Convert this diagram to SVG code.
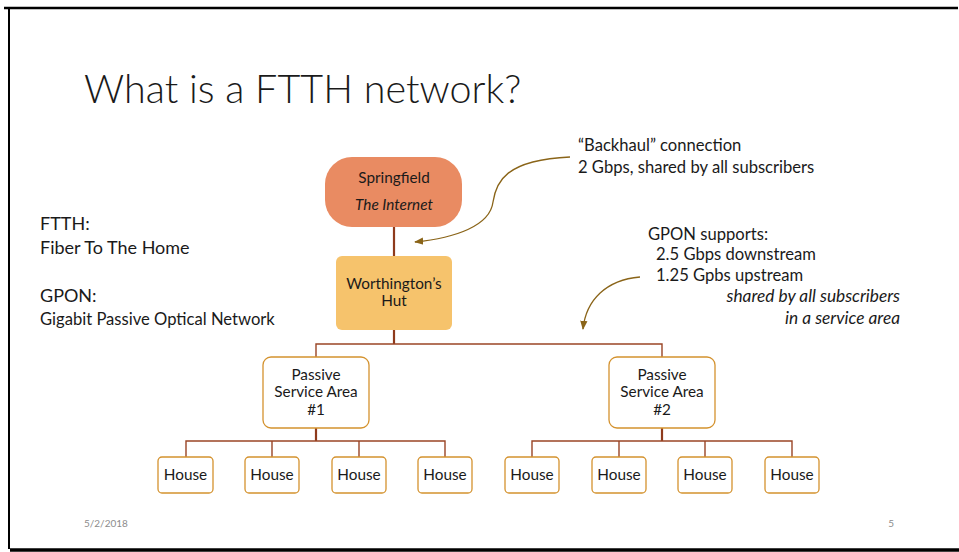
<svg xmlns="http://www.w3.org/2000/svg" width="959" height="552" viewBox="0 0 959 552">
  <defs>
    <style>
      text { font-family: Lato, "Open Sans", "Liberation Sans", sans-serif; fill: #1a1a1a; }
      .title { font-size: 39.5px; font-weight: 300; }
      .lead { font-size: 18px; }
      .body { font-size: 16.6px; }
      .note { font-size: 17.3px; font-style: italic; }
      .node { font-size: 15.3px; text-anchor: middle; }
      .it { font-style: italic; }
      .foot { font-size: 10px; fill: #8c8c8c; }
      .wire { stroke: #9a4526; stroke-width: 1.4; fill: none; }
      .trunk { stroke: #8e3a1c; stroke-width: 2.2; fill: none; }
      .callout { stroke: #8a6418; stroke-width: 1.3; fill: none; }
      .box { fill: #ffffff; stroke: #d4922e; stroke-width: 1.3; }
    </style>
    <marker id="tip" viewBox="0 0 10 10" refX="9" refY="5" markerWidth="7" markerHeight="7" orient="auto">
      <path d="M0,1 L10,5 L0,9 Z" fill="#8a6418"/>
    </marker>
  </defs>

  <!-- page -->
  <rect x="0" y="0" width="959" height="552" fill="#ffffff"/>
  <!-- slide frame -->
  <line x1="4" y1="8" x2="958" y2="8" stroke="#000" stroke-width="2.4"/>
  <line x1="9" y1="7" x2="9" y2="549" stroke="#000" stroke-width="2"/>
  <line x1="10" y1="550" x2="959" y2="550" stroke="#000" stroke-width="3.5"/>

  <text class="title" x="84" y="103">What is a FTTH network?</text>

  <!-- left notes -->
  <text class="lead" x="40" y="230">FTTH:</text>
  <text class="lead" x="40" y="254">Fiber To The Home</text>
  <text class="lead" x="40" y="302">GPON:</text>
  <text class="body" x="40" y="325">Gigabit Passive Optical Network</text>

  <!-- right notes -->
  <text class="body" x="578" y="151">“Backhaul” connection</text>
  <text class="body" x="578" y="173">2 Gbps, shared by all subscribers</text>
  <text class="body" x="648" y="240">GPON supports:</text>
  <text class="body" x="656" y="260">2.5 Gbps downstream</text>
  <text class="body" x="656" y="281">1.25 Gpbs upstream</text>
  <text class="note" x="900" y="302" text-anchor="end">shared by all subscribers</text>
  <text class="note" x="900" y="324" text-anchor="end">in a service area</text>

  <!-- connectors -->
  <g id="connectors">
    <line class="trunk" x1="394" y1="227" x2="394" y2="257"/>
    <line class="trunk" x1="394" y1="330" x2="394" y2="344"/>
    <path class="wire" d="M316,357 V344 H662 V357"/>
    <line class="trunk" x1="316" y1="428" x2="316" y2="441"/>
    <path class="wire" d="M186,457 V441 H445 V457 M272,441 V457 M359,441 V457"/>
    <line class="trunk" x1="662" y1="428" x2="662" y2="441"/>
    <path class="wire" d="M532,457 V441 H792 V457 M619,441 V457 M705,441 V457"/>
    <path class="callout" d="M570,157 C 505,160 496,182 493,202 C 490,226 455,238 415,242" marker-end="url(#tip)"/>
    <path class="callout" d="M640,277 C 606,280 586,300 583,329" marker-end="url(#tip)"/>
  </g>

  <!-- nodes -->
  <g id="springfield">
    <rect x="325" y="157" width="137" height="70" rx="27" ry="27" fill="#e98b62"/>
    <text class="node" x="394" y="183">Springfield</text>
    <text class="node it" x="394" y="210">The Internet</text>
  </g>
  <g id="hut">
    <rect x="336" y="256" width="116" height="74" rx="6" ry="6" fill="#f6c36c"/>
    <text class="node" x="394" y="289">Worthington’s</text>
    <text class="node" x="394" y="306">Hut</text>
  </g>
  <g id="area1">
    <rect class="box" x="263" y="357" width="106" height="71" rx="8" ry="8"/>
    <text class="node" x="316" y="380">Passive</text>
    <text class="node" x="316" y="397">Service Area</text>
    <text class="node" x="316" y="415">#1</text>
  </g>
  <g id="area2">
    <rect class="box" x="609" y="357" width="106" height="71" rx="8" ry="8"/>
    <text class="node" x="662" y="380">Passive</text>
    <text class="node" x="662" y="397">Service Area</text>
    <text class="node" x="662" y="415">#2</text>
  </g>
  <g id="house1"><rect class="box" x="158" y="457" width="55" height="36" rx="4" ry="4"/><text class="node" x="185.5" y="480">House</text></g>
  <g id="house2"><rect class="box" x="245" y="457" width="54" height="36" rx="4" ry="4"/><text class="node" x="272" y="480">House</text></g>
  <g id="house3"><rect class="box" x="332" y="457" width="54" height="36" rx="4" ry="4"/><text class="node" x="359" y="480">House</text></g>
  <g id="house4"><rect class="box" x="418" y="457" width="54" height="36" rx="4" ry="4"/><text class="node" x="445" y="480">House</text></g>
  <g id="house5"><rect class="box" x="505" y="457" width="54" height="36" rx="4" ry="4"/><text class="node" x="532" y="480">House</text></g>
  <g id="house6"><rect class="box" x="592" y="457" width="54" height="36" rx="4" ry="4"/><text class="node" x="619" y="480">House</text></g>
  <g id="house7"><rect class="box" x="678" y="457" width="54" height="36" rx="4" ry="4"/><text class="node" x="705" y="480">House</text></g>
  <g id="house8"><rect class="box" x="765" y="457" width="54" height="36" rx="4" ry="4"/><text class="node" x="792" y="480">House</text></g>

  <!-- footer -->
  <text class="foot" x="84" y="527">5/2/2018</text>
  <text class="foot" x="894" y="527" text-anchor="end">5</text>
</svg>
